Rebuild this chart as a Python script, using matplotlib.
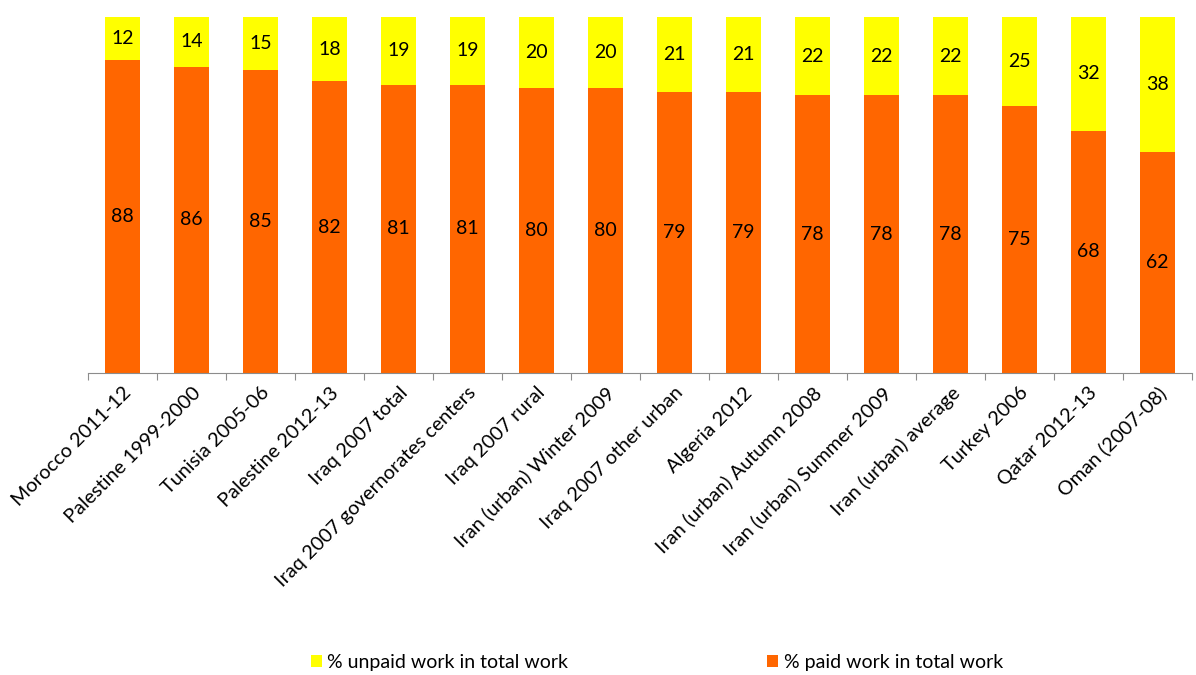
import numpy as np
import matplotlib
matplotlib.use('agg')
from matplotlib import pyplot as plt

categories = ['Morocco 2011-12', 'Palestine 1999-2000', 'Tunisia 2005-06', 'Palestine 2012-13',
              'Iraq 2007 total', 'Iraq 2007 governorates centers', 'Iraq 2007 rural',
              'Iran (urban) Winter 2009', 'Iraq 2007 other urban', 'Algeria 2012',
              'Iran (urban) Autumn 2008', 'Iran (urban) Summer 2009', 'Iran (urban) average',
              'Turkey 2006', 'Qatar 2012-13', 'Oman (2007-08)']
paid = [88, 86, 85, 82, 81, 81, 80, 80, 79, 79, 78, 78, 78, 75, 68, 62]
unpaid = [12, 14, 15, 18, 19, 19, 20, 20, 21, 21, 22, 22, 22, 25, 32, 38]

PAID_COLOR = '#FF6600'
UNPAID_COLOR = '#FFFF00'

plt.rcParams['font.family'] = ['Lato', 'DejaVu Sans']

fig = plt.figure(figsize=(11.96, 6.75), dpi=100)
ax = fig.add_axes([0.0736, 0.4474, 0.9231, 0.5274])

x = np.arange(len(categories))
bars_paid = ax.bar(x, paid, width=0.5, color=PAID_COLOR, label='% paid work in total work', zorder=2)
bars_unpaid = ax.bar(x, unpaid, width=0.5, bottom=paid, color=UNPAID_COLOR,
                     label='% unpaid work in total work', zorder=2)

# value labels centred in each segment
for i in range(len(categories)):
    ax.text(x[i], paid[i] / 2, str(paid[i]), ha='center', va='center', fontsize=14, color='black')
    ax.text(x[i], paid[i] + unpaid[i] / 2, str(unpaid[i]), ha='center', va='center',
            fontsize=14, color='black')

ax.set_xlim(-0.5, len(categories) - 0.5)
ax.set_ylim(0, 100)
for side in ['left', 'right', 'top']:
    ax.spines[side].set_visible(False)
ax.spines['bottom'].set_color('#8c8c8c')
ax.set_yticks([])

# category ticks sit between the bars
ax.set_xticks(np.arange(-0.5, len(categories), 1.0))
ax.set_xticklabels([])
ax.tick_params(axis='x', which='major', length=5, color='#8c8c8c')
ax.set_xticks(x, minor=True)
ax.set_xticklabels(categories, minor=True, rotation=45, ha='right', rotation_mode='anchor',
                   fontsize=14.3)
ax.tick_params(axis='x', which='minor', length=0, pad=8)

handles = [bars_unpaid, bars_paid]
fig.legend(handles, [h.get_label() for h in handles], loc='center left',
           bbox_to_anchor=(0.245, 0.018), ncol=2, frameon=False, fontsize=14,
           handlelength=0.57, handleheight=0.57, handletextpad=0.3, columnspacing=10.2)

plt.savefig('out.png', dpi=100)
